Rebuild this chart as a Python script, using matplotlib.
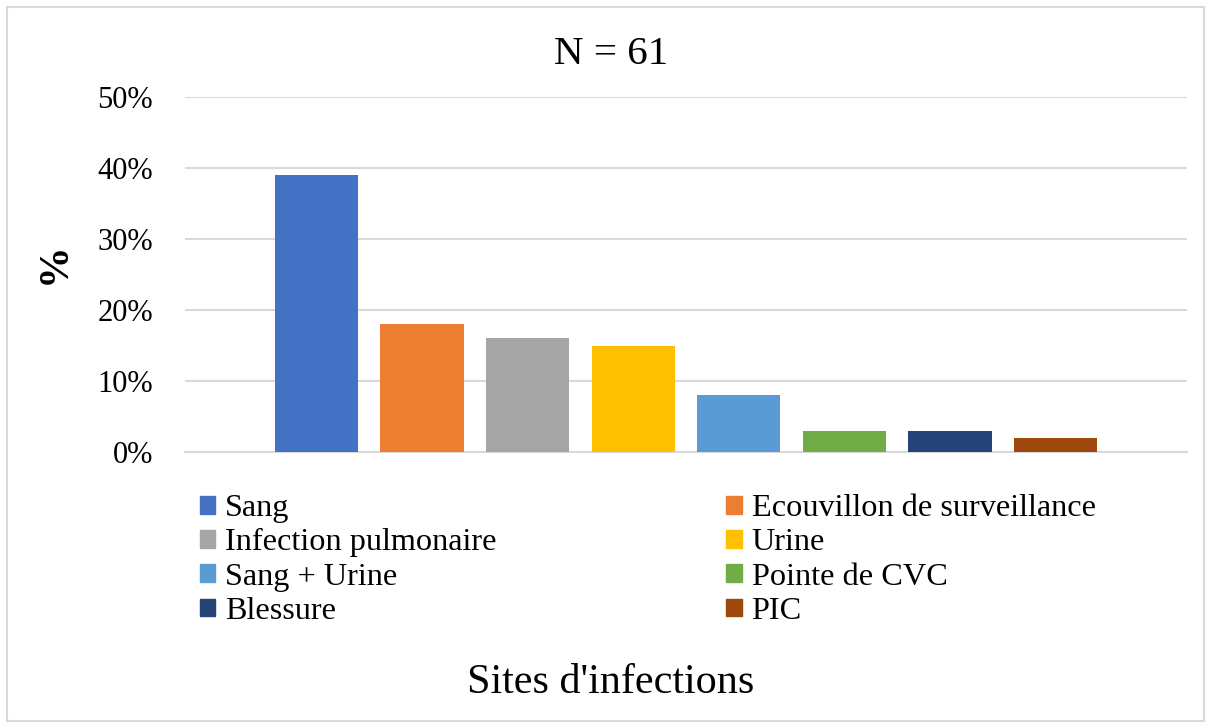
import matplotlib.pyplot as plt
from matplotlib.patches import Patch, Rectangle
from matplotlib.ticker import PercentFormatter

plt.rcParams['font.family'] = ['Liberation Serif', 'DejaVu Serif']

sites = ['Sang', 'Ecouvillon de surveillance', 'Infection pulmonaire', 'Urine',
         'Sang + Urine', 'Pointe de CVC', 'Blessure', 'PIC']
values = [0.39, 0.18, 0.16, 0.15, 0.08, 0.03, 0.03, 0.02]
colors = ['#4472C4', '#ED7D31', '#A5A5A5', '#FFC000',
          '#5B9BD5', '#70AD47', '#264478', '#9E480E']

W, H = 1209, 727
fig = plt.figure(figsize=(W / 100, H / 100), dpi=100)
ax = fig.add_axes([185 / W, 1 - 452 / H, (1187 - 185) / W, (452 - 97) / H])

x = range(len(sites))
ax.bar(x, values, 0.79, color=colors, zorder=3)

ax.set_ylim(0, 0.5)
ax.set_xlim(-1.247, len(sites) - 1 + 1.247)
ax.set_yticks([0, 0.1, 0.2, 0.3, 0.4, 0.5])
ax.yaxis.set_major_formatter(PercentFormatter(1.0, decimals=0))
ax.set_xticks([])
ax.tick_params(axis='y', length=0, labelsize=22, pad=23)
ax.grid(axis='y', color='#D9D9D9', linewidth=1.5, zorder=0)
for s in ['top', 'right', 'left']:
    ax.spines[s].set_visible(False)
ax.spines['bottom'].set_color('#D9D9D9')
ax.spines['bottom'].set_linewidth(1.5)

# legend filled row by row (two columns)
order = [0, 2, 4, 6, 1, 3, 5, 7]
handles = [Patch(color=colors[i], label=sites[i]) for i in order]
fig.legend(handles=handles, ncol=2, loc='upper left',
           bbox_to_anchor=(200 / W, 1 - 494 / H), frameon=False,
           fontsize=23.2, handlelength=0.48, handleheight=0.48,
           handletextpad=0.3, labelspacing=0.165, columnspacing=7.13,
           borderpad=0, borderaxespad=0)

fig.text(611 / W, 1 - 55 / H, 'N = 61', ha='center', va='center', fontsize=29.5)
fig.text(611 / W, 1 - 683 / H, "Sites d'infections", ha='center', va='center', fontsize=30.4)
fig.text(55 / W, 1 - 263 / H, '%', ha='center', va='center', rotation=90,
         fontsize=30, fontweight='bold')

fig.patches.append(Rectangle((7 / W, 1 - 721 / H), (1204 - 7) / W, (721 - 7) / H,
                             transform=fig.transFigure, fill=False,
                             edgecolor='#D9D9D9', linewidth=1.5))

fig.savefig('out.png', dpi=100)
